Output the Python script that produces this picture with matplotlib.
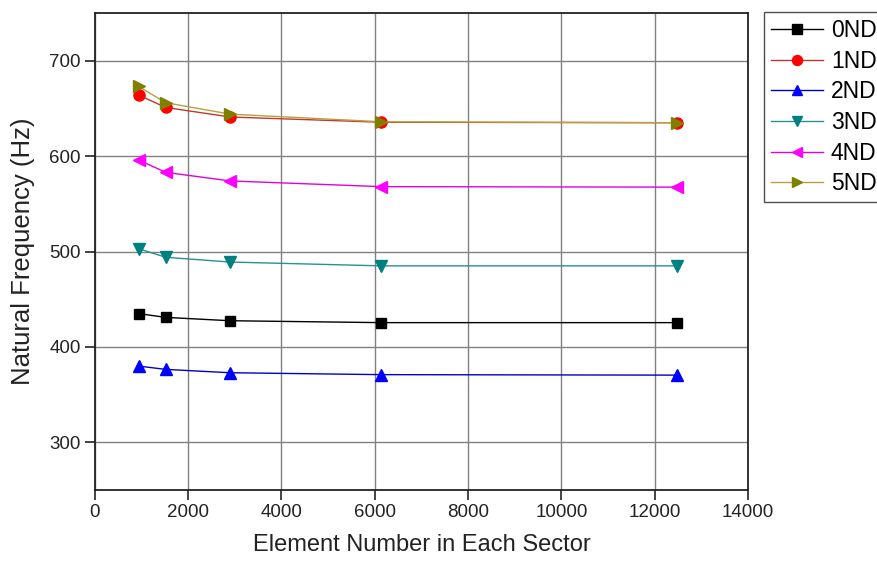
import matplotlib
matplotlib.use("Agg")
import matplotlib.pyplot as plt

plt.rcParams['font.family'] = ['Liberation Sans', 'DejaVu Sans']

elements = [940, 1520, 2900, 6140, 12470]
labels = ['0ND', '1ND', '2ND', '3ND', '4ND', '5ND']
freq_0nd = [435, 431, 427.5, 425.5, 425.5]
freq_1nd = [664, 651, 641, 635.5, 635]
freq_2nd = [380, 376.5, 373, 371, 370.5]
freq_3nd = [503, 494, 489, 485, 485]
freq_4nd = [596, 583, 574, 568, 567.5]
freq_5nd = [673, 656, 644, 636, 635]
series = [freq_0nd, freq_1nd, freq_2nd, freq_3nd, freq_4nd, freq_5nd]
colors = ['#000000', '#ff0000', '#0000ff', '#008080', '#ff00ff', '#808000']
line_colors = ['#000000', '#c0392b', '#0000cc', '#2a9090', '#e000e0', '#b8a040']
markers = ['s', 'o', '^', 'v', '<', '>']
msizes = [7.5, 8, 8.5, 8.5, 8.5, 8.5]

fig = plt.figure(figsize=(8.77, 5.64), dpi=100)
ax = fig.add_axes([0.108, 0.131, 0.745, 0.846])

for y, lab, c, lc, m, ms in zip(series, labels, colors, line_colors, markers, msizes):
    ax.plot(elements, y, color=lc, lw=1.0, marker=m, markersize=ms,
            markerfacecolor=c, markeredgecolor=c, label=lab)

ax.set_xlim(0, 14000)
ax.set_ylim(250, 750)
ax.set_xticks(range(0, 14001, 2000))
ax.set_yticks([300, 400, 500, 600, 700])
ax.grid(True, color='#808080', lw=1.0)
ax.set_axisbelow(True)
ax.tick_params(direction='out', labelsize=13.5, length=7, width=1.2, pad=3,
               colors='#222222')
for s in ax.spines.values():
    s.set_linewidth(1.3)
    s.set_color('#222222')

ax.set_xlabel('Element Number in Each Sector', fontsize=17, labelpad=9, color='#222222')
ax.set_ylabel('Natural Frequency (Hz)', fontsize=18.5, labelpad=10, color='#222222')

leg = fig.legend(loc='upper left', bbox_to_anchor=(764/877, 1 - 12/564),
                 fontsize=16.5, frameon=True, fancybox=False, edgecolor='#222222',
                 handlelength=2.25, handletextpad=0.35, labelspacing=0.33,
                 borderpad=0.32, borderaxespad=0, markerscale=0.9)
leg.get_frame().set_linewidth(1.0)

fig.savefig('out.png', dpi=100)
